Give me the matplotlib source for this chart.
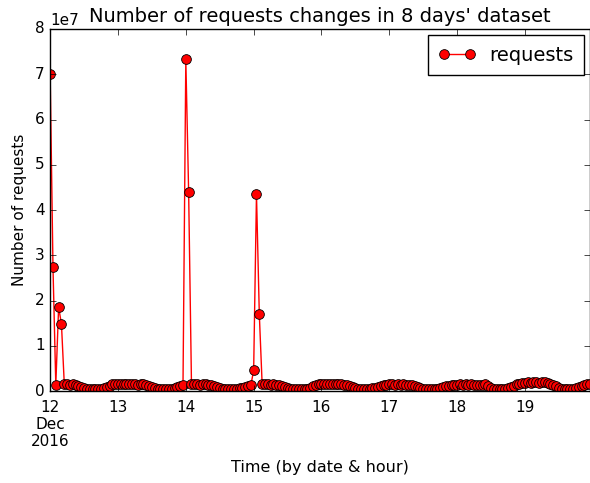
import numpy as np
import pandas as pd
import matplotlib
matplotlib.use('Agg')
import matplotlib.pyplot as plt

# hourly request counts, in millions, Dec 12 00:00 -> Dec 19 23:00
dec12 = [70.0, 27.4, 1.4, 18.6, 14.8, 1.6, 1.5, 1.3, 1.6, 1.4, 1.2, 1.0,
         0.8, 0.6, 0.5, 0.5, 0.5, 0.6, 0.6, 0.7, 0.9, 1.2, 1.5, 1.6]
dec13 = [1.7, 1.6, 1.5, 1.6, 1.5, 1.6, 1.5, 1.4, 1.5, 1.6, 1.4, 1.2,
         0.9, 0.7, 0.5, 0.5, 0.5, 0.5, 0.6, 0.6, 0.8, 1.0, 1.2, 1.3]
dec14 = [73.3, 43.9, 1.6, 1.7, 1.5, 1.4, 1.6, 1.5, 1.3, 1.4, 1.2, 1.0,
         0.8, 0.6, 0.5, 0.5, 0.5, 0.5, 0.6, 0.7, 0.8, 1.0, 1.2, 1.3]
dec15 = [4.6, 43.5, 17.0, 1.6, 1.5, 1.6, 1.4, 1.5, 1.3, 1.4, 1.2, 0.9,
         0.7, 0.6, 0.5, 0.5, 0.5, 0.5, 0.5, 0.6, 0.8, 1.1, 1.3, 1.5]
dec16 = [1.6, 1.7, 1.6, 1.7, 1.6, 1.5, 1.6, 1.5, 1.4, 1.3, 1.2, 1.0,
         0.8, 0.6, 0.6, 0.5, 0.5, 0.6, 0.7, 0.8, 1.0, 1.2, 1.3, 1.4]
dec17 = [1.5, 1.5, 1.4, 1.5, 1.4, 1.5, 1.4, 1.3, 1.3, 1.2, 1.0, 0.8,
         0.6, 0.5, 0.5, 0.5, 0.5, 0.6, 0.7, 0.9, 1.1, 1.2, 1.3, 1.4]
dec18 = [1.4, 1.5, 1.4, 1.5, 1.4, 1.5, 1.4, 1.4, 1.3, 1.3, 1.6, 1.2,
         0.8, 0.6, 0.5, 0.5, 0.5, 0.6, 0.7, 0.9, 1.2, 1.5, 1.7, 1.8]
dec19 = [1.9, 2.0, 1.9, 2.1, 2.0, 1.9, 2.0, 2.1, 1.9, 1.7, 1.4, 1.1,
         0.8, 0.6, 0.5, 0.5, 0.5, 0.6, 0.7, 0.9, 1.1, 1.3, 1.5, 1.7]

days = ['12\nDec\n2016', '13', '14', '15', '16', '17', '18', '19']

requests = np.array(dec12 + dec13 + dec14 + dec15 + dec16 + dec17 + dec18 + dec19) * 1e6
times = pd.date_range('2016-12-12 00:00', periods=len(requests), freq='h')

plt.style.use('classic')
fig = plt.figure(figsize=(5.9, 4.83), dpi=100, facecolor='white')
ax = fig.add_axes([0.085, 0.19, 0.915, 0.75])

ax.plot(times, requests, color='r', marker='o', markersize=7,
        markeredgecolor='k', markeredgewidth=0.6, linewidth=1.0, label='requests')

ax.set_xlim(times[0], times[-1])
ax.set_ylim(0, 8e7)
day_ticks = pd.date_range('2016-12-12', periods=8, freq='D')
ax.set_xticks(day_ticks)
ax.set_xticklabels(days)
ax.tick_params(labelsize=11)
ax.tick_params(axis='x', pad=6)
ax.yaxis.get_offset_text().set_fontsize(11)

ax.set_title("Number of requests changes in 8 days' dataset", fontsize=14)
ax.set_xlabel('Time (by date & hour)', fontsize=11.5, labelpad=8)
ax.set_ylabel('Number of requests', fontsize=11, labelpad=6)
ax.legend(loc='upper right', fontsize=14, numpoints=2, borderpad=0.55,
          borderaxespad=0.3, handlelength=1.9, handletextpad=0.7)

fig.savefig('out.png', dpi=100, facecolor='white')
